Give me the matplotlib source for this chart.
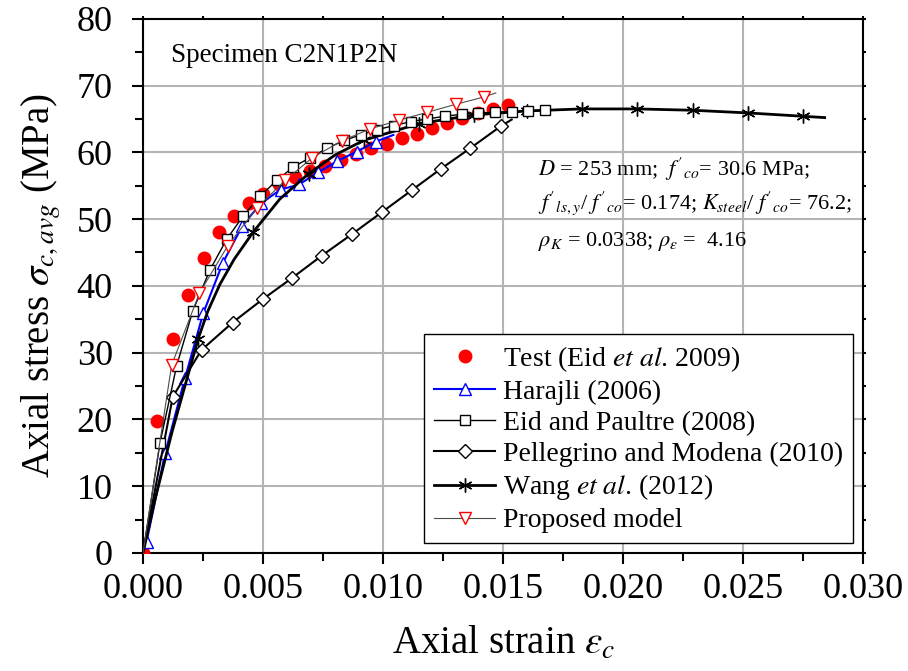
import numpy as np
import matplotlib
matplotlib.use("Agg")
import matplotlib.pyplot as plt
from matplotlib.ticker import MultipleLocator, FormatStrFormatter

plt.rcParams["font.family"] = ["Liberation Serif", "DejaVu Serif"]
plt.rcParams["mathtext.fontset"] = "stix"

# -------------------------
# Data
# -------------------------
test_strain = [0, 0.0006, 0.00124, 0.00189, 0.00254, 0.00317, 0.0038, 0.00443, 0.00501,
               0.00568, 0.00633, 0.00696, 0.00758, 0.00824, 0.00888, 0.00951, 0.01015,
               0.01078, 0.0114, 0.01203, 0.01265, 0.01328, 0.01395, 0.01457, 0.0152]
test_stress = [0, 19.7, 32.0, 38.6, 44.1, 48.0, 50.5, 52.4, 53.8, 55.3, 56.3, 57.2, 58.0,
               58.9, 59.8, 60.6, 61.3, 62.1, 62.8, 63.6, 64.4, 65.1, 65.9, 66.5, 67.1]

harajli_strain = [0.00015, 0.00092, 0.00175, 0.00251, 0.00332, 0.00414, 0.00492, 0.00573,
                  0.00651, 0.0073, 0.0081, 0.0089, 0.0097, 0.01043]
harajli_stress = [1.7, 14.9, 26.2, 35.9, 43.4, 49.0, 52.4, 54.4, 55.2, 57.0, 58.7, 60.1,
                  61.6, 62.6]

eid_strain = [0, 0.00071, 0.0014, 0.00207, 0.00279, 0.00349, 0.00418, 0.00488, 0.00557,
              0.00626, 0.00696, 0.00768, 0.00838, 0.00907, 0.00976, 0.01046, 0.01115,
              0.01185, 0.01258, 0.01327, 0.01397, 0.01467, 0.01536, 0.01605, 0.01675]
eid_stress = [0, 16.5, 28.0, 36.2, 42.4, 47.0, 50.5, 53.4, 55.8, 57.8, 59.2, 60.6, 61.8,
              62.6, 63.4, 64.0, 64.6, 65.0, 65.4, 65.7, 65.9, 66.0, 66.1, 66.2, 66.3]

pell_strain = [0, 0.00124, 0.00244, 0.00373, 0.00499, 0.00622, 0.00744, 0.00869, 0.00994,
               0.01119, 0.0124, 0.01363, 0.0149, 0.01536]
pell_stress = [0, 23.4, 30.4, 34.5, 38.0, 41.2, 44.5, 47.7, 51.0, 54.3, 57.5, 60.6, 63.9, 64.9]

wang_strain = [0, 0.0005, 0.0012, 0.0023, 0.0027, 0.0032, 0.0038, 0.0046, 0.0057, 0.0069,
               0.0080, 0.0092, 0.0115, 0.0138, 0.0160, 0.0183, 0.0206, 0.0229, 0.0252,
               0.0275, 0.0284]
wang_stress = [0, 8.0, 18.0, 32.1, 36.2, 40.2, 44.0, 48.1, 53.0, 56.8, 59.6, 61.8, 64.3,
               65.6, 66.2, 66.5, 66.5, 66.3, 65.9, 65.4, 65.2]
wang_marks = [3, 7, 9, 11, 12, 13, 14, 15, 16, 17, 18, 19]

prop_strain = [0, 0.00119, 0.00235, 0.00353, 0.00473, 0.00592, 0.00706, 0.00827, 0.00946,
               0.01065, 0.01185, 0.01304, 0.01422, 0.0147]
prop_stress = [0, 28.1, 38.9, 46.0, 51.6, 55.8, 59.2, 61.7, 63.5, 64.8, 66.0, 67.2, 68.3, 68.9]

# -------------------------
# Plot
# -------------------------
fig = plt.figure(figsize=(9.08, 6.71), dpi=100)
ax = fig.add_axes([0.1575, 0.176, 0.793, 0.796])

ax.plot(test_strain, test_stress, "o", color="red", ms=9, mec="red", ls="none",
        label=r"Test (Eid $\mathit{et\ al}$. 2009)", zorder=3)
ax.plot(harajli_strain, harajli_stress, "-^", color="blue", lw=1.5, ms=8, mfc="white",
        mec="blue", markevery=slice(0, -1), label="Harajli (2006)", zorder=4)
ax.plot(eid_strain, eid_stress, "-s", color="black", lw=1.0, ms=7, mfc="white",
        markevery=slice(1, None), label="Eid and Paultre (2008)", zorder=5)
ax.plot(pell_strain, pell_stress, "-D", color="black", lw=1.5, ms=7, mfc="white",
        markevery=slice(1, -1), label="Pellegrino and Modena (2010)", zorder=4)
ax.plot(wang_strain, wang_stress, "-", color="black", lw=2.0, marker=(6, 2, 0), ms=10,
        mew=1.0, markevery=wang_marks, label=r"Wang $\mathit{et\ al}$. (2012)", zorder=4)
ax.plot(prop_strain, prop_stress, "-v", color="0.3", lw=0.8, ms=8, mfc="white", mec="red",
        markevery=slice(1, -1), label="Proposed model", zorder=6)

ax.set_xlim(0, 0.030)
ax.set_ylim(0, 80)
ax.xaxis.set_major_locator(MultipleLocator(0.005))
ax.xaxis.set_minor_locator(MultipleLocator(0.0025))
ax.xaxis.set_major_formatter(FormatStrFormatter("%.3f"))
ax.yaxis.set_major_locator(MultipleLocator(10))
ax.yaxis.set_minor_locator(MultipleLocator(5))

ax.grid(True, which="major", color="#b4b4b4", lw=1.5, zorder=0)
ax.set_axisbelow(True)
for s in ax.spines.values():
    s.set_linewidth(1.5)

ax.tick_params(which="major", direction="out", length=7.7, width=1.5, labelsize=26)
ax.tick_params(which="minor", direction="out", length=5.5, width=1.5)
ax.tick_params(axis="y", which="major", pad=14)
ax.tick_params(axis="x", which="major", pad=7)
ax.tick_params(top=True, right=True, which="both")
ax.tick_params(axis="x", which="both", top=True, labeltop=False)
ax.tick_params(axis="y", which="both", right=True, labelright=False)
for t in ax.xaxis.get_ticklines(minor=False)[1::2] + ax.xaxis.get_ticklines(minor=True)[1::2]:
    t.set_markersize(2.5)
for t in ax.yaxis.get_ticklines(minor=False)[1::2] + ax.yaxis.get_ticklines(minor=True)[1::2]:
    t.set_markersize(2.5)

ax.set_xlabel(r"Axial strain $\varepsilon_c$", fontsize=28, labelpad=14)
ax.set_ylabel(r"Axial stress $\sigma_{c,avg}$ (MPa)", fontsize=28, labelpad=10)

ax.text(0.00115, 73.5, "Specimen C2N1P2N", fontsize=19.5, va="baseline")
ax.text(0.01646, 56.5, r"$D$ = 253 mm;  $f'_{co}$= 30.6 MPa;", fontsize=16, va="baseline")
ax.text(0.01646, 51.5, r"$f'_{ls,y}$/ $f'_{co}$= 0.174; $K_{steel}$/ $f'_{co}$= 76.2;",
        fontsize=16, va="baseline")
ax.text(0.01646, 46.0, r"$\rho_K$ = 0.0338; $\rho_\varepsilon$ =  4.16", fontsize=16,
        va="baseline")

leg = ax.legend(loc="lower right", fontsize=20, handlelength=2.2, handletextpad=0.3,
                labelspacing=0.2, borderpad=0.35, borderaxespad=0.35, fancybox=False,
                framealpha=1, edgecolor="black")
leg.get_frame().set_linewidth(1.0)

fig.savefig("out.png", dpi=100)
